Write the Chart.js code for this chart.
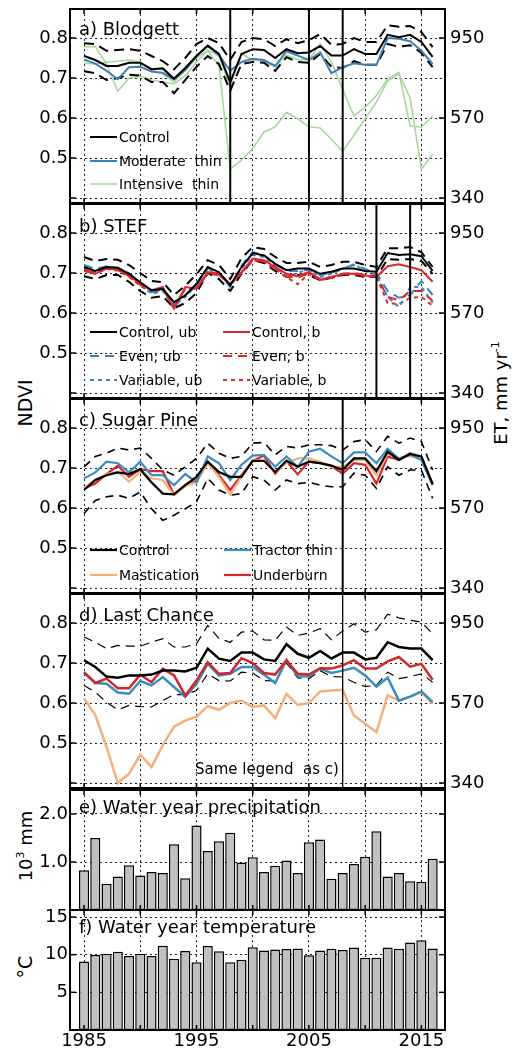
<!DOCTYPE html>
<html>
<head>
<meta charset="utf-8">
<script src="https://cdn.jsdelivr.net/npm/chart.js@4.4.0/dist/chart.umd.min.js"></script>
<style>
html,body{margin:0;padding:0;background:#fff;width:514px;height:1048px;overflow:hidden;}
body{position:relative;font-family:"DejaVu Sans";}
canvas{position:absolute;left:0;}
.lab{position:absolute;font-family:"DejaVu Sans";color:#000;white-space:nowrap;transform:translate(-50%,-50%) rotate(-90deg);}
.lab sup{font-size:11px;vertical-align:8px;line-height:0;}
</style>
</head>
<body>
<div class="lab" style="left:25px;top:403px;font-size:19px;">NDVI</div>
<div class="lab" style="left:500px;top:393px;font-size:18px;">ET, mm yr<sup>-1</sup></div>
<div class="lab" style="left:25px;top:846px;font-size:18px;">10<sup>3</sup> mm</div>
<div class="lab" style="left:25px;top:967px;font-size:19px;">°C</div>
<script>
// ---------------- DATA ----------------
const years = [1985,1986,1987,1988,1989,1990,1991,1992,1993,1994,1995,1996,1997,1998,1999,2000,
               2001,2002,2003,2004,2005,2006,2007,2008,2009,2010,2011,2012,2013,2014,2015,2016];
const xGridYears = [1985,1990,1995,2000,2005,2010,2015];
const xLabelYears = [1985,1995,2005,2015];
const ndviTicks = [0.4,0.5,0.6,0.7,0.8];
const etTickNdvi = [0.4,0.6,0.8];
const etTickLabels = ['340','570','950'];
const precipTicks = [1,2];
const tempTicks = [5,10,15];

// a) Blodgett
const blodControl  = [0.755,0.745,0.730,0.730,0.738,0.738,0.722,0.724,0.698,0.725,0.755,0.781,0.760,0.689,0.760,0.772,0.770,0.750,0.772,0.762,0.764,0.780,0.756,0.756,0.772,0.760,0.760,0.808,0.802,0.808,0.790,0.753];
const blodUpper    = [0.787,0.785,0.768,0.770,0.772,0.768,0.755,0.742,0.722,0.750,0.785,0.800,0.787,0.745,0.790,0.800,0.797,0.780,0.797,0.787,0.795,0.810,0.783,0.785,0.800,0.790,0.790,0.832,0.828,0.830,0.815,0.777];
const blodLower    = [0.717,0.712,0.695,0.700,0.708,0.706,0.690,0.690,0.662,0.695,0.728,0.755,0.735,0.668,0.735,0.740,0.738,0.718,0.752,0.740,0.738,0.760,0.728,0.725,0.742,0.733,0.733,0.785,0.778,0.782,0.763,0.727];
const blodModerate = [0.746,0.736,0.718,0.697,0.727,0.728,0.716,0.713,0.697,0.720,0.755,0.780,0.757,0.718,0.740,0.748,0.745,0.730,0.767,0.756,0.745,0.764,0.712,0.727,0.737,0.733,0.733,0.800,0.798,0.792,0.768,0.735];
const blodIntense1 = [0.778,0.778,0.735,0.667,0.700,0.705,0.695,0.690,0.685,0.705,0.740,0.768,0.730,0.472,0.495,0.523,0.565,0.578,0.614,0.598,0.578,0.575,0.547,0.517,0.557,0.598,0.640,0.693,0.710,0.650,0.472,0.510];
const blodIntense2 = [0.737,0.735,0.740,0.742,0.745,0.740,0.718,0.710,0.690,0.720,0.750,0.770,0.755,0.680,0.760,0.745,0.742,0.728,0.757,0.746,0.745,0.785,0.740,0.672,0.605,0.627,0.656,0.698,0.714,0.580,0.577,0.605];

// b) STEF
const stefCtrlUb = [0.715,0.705,0.715,0.713,0.698,0.677,0.657,0.660,0.627,0.644,0.673,0.715,0.702,0.669,0.715,0.750,0.744,0.723,0.707,0.711,0.711,0.698,0.703,0.711,0.711,0.705,0.703,0.750,0.745,0.747,0.742,0.705];
const stefCtrlB  = [0.705,0.698,0.711,0.708,0.694,0.673,0.657,0.665,0.611,0.665,0.661,0.702,0.698,0.673,0.702,0.736,0.732,0.715,0.698,0.692,0.703,0.683,0.690,0.698,0.698,0.694,0.690,0.717,0.722,0.715,0.707,0.678];
const stefUpper  = [0.740,0.730,0.735,0.733,0.720,0.700,0.680,0.677,0.645,0.668,0.697,0.732,0.720,0.685,0.737,0.765,0.760,0.740,0.725,0.725,0.728,0.715,0.720,0.728,0.728,0.720,0.715,0.762,0.762,0.765,0.752,0.715];
const stefLower  = [0.692,0.685,0.695,0.695,0.678,0.655,0.638,0.642,0.612,0.625,0.650,0.700,0.685,0.655,0.698,0.732,0.725,0.705,0.690,0.695,0.695,0.682,0.688,0.695,0.695,0.690,0.690,0.735,0.733,0.735,0.730,0.698];
const stefEvenUb = [0.720,0.710,0.717,0.712,0.700,0.675,0.652,0.658,0.622,0.645,0.668,0.712,0.700,0.665,0.718,0.752,0.745,0.722,0.705,0.705,0.708,0.695,0.700,0.712,0.720,0.710,0.700,0.655,0.638,0.645,0.680,0.645];
const stefVarUb  = [0.712,0.702,0.713,0.710,0.696,0.672,0.648,0.655,0.618,0.640,0.670,0.710,0.698,0.668,0.712,0.745,0.740,0.718,0.690,0.700,0.710,0.690,0.698,0.710,0.722,0.705,0.695,0.640,0.615,0.665,0.665,0.625];
const stefEvenB  = [0.708,0.700,0.712,0.708,0.692,0.670,0.655,0.662,0.615,0.660,0.662,0.700,0.695,0.672,0.700,0.733,0.730,0.712,0.692,0.688,0.700,0.685,0.690,0.698,0.700,0.695,0.692,0.640,0.632,0.655,0.655,0.630];
const stefVarB   = [0.706,0.698,0.710,0.706,0.690,0.668,0.652,0.660,0.612,0.662,0.660,0.698,0.695,0.670,0.700,0.732,0.728,0.710,0.690,0.672,0.698,0.682,0.688,0.695,0.698,0.692,0.690,0.625,0.622,0.638,0.640,0.618];

// c) Sugar Pine
const spCtrl    = [0.645,0.670,0.682,0.689,0.685,0.697,0.664,0.636,0.634,0.657,0.678,0.716,0.690,0.678,0.678,0.718,0.718,0.690,0.718,0.703,0.716,0.712,0.706,0.695,0.724,0.724,0.692,0.741,0.720,0.735,0.729,0.660];
const spUpper   = [0.703,0.729,0.737,0.750,0.745,0.750,0.724,0.695,0.682,0.703,0.724,0.762,0.737,0.724,0.729,0.762,0.764,0.733,0.754,0.750,0.758,0.758,0.756,0.745,0.766,0.771,0.741,0.779,0.762,0.775,0.766,0.695];
const spLower   = [0.586,0.619,0.628,0.632,0.624,0.640,0.598,0.569,0.582,0.598,0.615,0.674,0.645,0.632,0.636,0.678,0.670,0.645,0.670,0.661,0.664,0.657,0.653,0.653,0.687,0.682,0.649,0.703,0.682,0.695,0.695,0.624];
const spTractor = [0.674,0.689,0.716,0.712,0.689,0.716,0.682,0.682,0.657,0.685,0.664,0.729,0.712,0.670,0.708,0.731,0.733,0.703,0.729,0.703,0.741,0.748,0.729,0.712,0.739,0.739,0.712,0.748,0.723,0.733,0.720,0.657];
const spMast    = [0.650,0.670,0.685,0.690,0.666,0.690,0.674,0.670,0.632,0.655,0.664,0.712,0.678,0.634,0.678,0.720,0.718,0.690,0.712,0.724,0.724,0.715,0.703,0.703,0.720,0.720,0.682,0.735,0.725,0.730,0.725,0.660];
const spBurn    = [0.649,0.661,0.685,0.706,0.678,0.697,0.692,0.692,0.634,0.657,0.670,0.716,0.682,0.645,0.682,0.718,0.731,0.686,0.718,0.684,0.716,0.712,0.705,0.686,0.712,0.708,0.661,0.729,0.720,0.737,0.725,0.658];

// d) Last Chance
const lcCtrl    = [0.707,0.690,0.666,0.663,0.669,0.669,0.671,0.681,0.681,0.679,0.688,0.736,0.711,0.705,0.726,0.726,0.709,0.705,0.747,0.723,0.713,0.730,0.711,0.726,0.726,0.709,0.713,0.752,0.740,0.736,0.736,0.707];
const lcUpper   = [0.765,0.752,0.736,0.744,0.742,0.742,0.752,0.761,0.740,0.740,0.748,0.794,0.761,0.752,0.777,0.780,0.758,0.757,0.790,0.769,0.775,0.786,0.758,0.780,0.798,0.777,0.783,0.822,0.813,0.807,0.802,0.773];
const lcLower   = [0.644,0.627,0.602,0.583,0.594,0.591,0.590,0.606,0.621,0.621,0.631,0.673,0.656,0.655,0.677,0.675,0.656,0.655,0.700,0.663,0.661,0.681,0.666,0.665,0.652,0.641,0.644,0.677,0.661,0.666,0.673,0.652];
const lcTractor = [0.677,0.650,0.648,0.626,0.623,0.655,0.644,0.665,0.640,0.615,0.648,0.698,0.669,0.673,0.690,0.690,0.671,0.650,0.707,0.667,0.666,0.686,0.675,0.681,0.688,0.669,0.641,0.663,0.606,0.616,0.629,0.602];
const lcMast    = [0.611,0.570,0.490,0.400,0.423,0.471,0.440,0.494,0.541,0.556,0.566,0.592,0.583,0.600,0.606,0.590,0.594,0.562,0.623,0.595,0.600,0.629,0.631,0.633,0.569,0.548,0.527,0.619,0.606,0.616,0.627,0.598];
const lcBurn    = [0.676,0.650,0.661,0.637,0.637,0.671,0.652,0.686,0.669,0.619,0.656,0.702,0.673,0.675,0.712,0.700,0.675,0.671,0.707,0.673,0.671,0.687,0.686,0.694,0.707,0.686,0.686,0.704,0.715,0.691,0.698,0.658];

// e) Water year precipitation (10^3 mm)
const precip = [0.83,1.50,0.545,0.70,0.93,0.72,0.79,0.77,1.37,0.66,1.76,1.23,1.43,1.61,0.99,1.10,
                0.79,0.92,1.03,0.77,1.41,1.47,0.65,0.77,0.96,1.11,1.64,0.70,0.77,0.60,0.59,1.07];
// f) Water year temperature (deg C)
const temp = [9.08,9.96,10.13,10.39,9.82,10.13,9.82,11.18,9.47,10.48,8.99,11.14,10.44,8.99,9.34,11.0,
              10.57,10.70,10.75,10.83,9.91,10.57,10.79,10.61,10.96,9.60,9.60,10.96,10.79,11.62,11.93,10.83];

// treatment years (vertical lines)
const treatBlodgett = [1998,2005,2008];
const treatStef = [2011,2014];
const treatSugarPine = [2008];
const treatLastChance = [2008];

// ---------------- RENDERING ----------------
Chart.defaults.font.family = '"DejaVu Sans"';
Chart.defaults.color = '#000';

const X_MIN = 1983.75, X_MAX = 2017.1;
const NDVI_MIN = 0.3875, NDVI_MAX = 0.8725;
const PAD = 10, X_LABEL_H = 18;
const BLUE_MOD = '#3d7fb6', GREEN = '#a9d7a0', STEF_BLUE = '#3288c0', STEF_RED = '#e1262b';
const TRACT = '#3a8cc1', MAST = '#f3b07a', BURN = '#d3262a';

const panelPlugin = {
  id: 'panel',
  afterDatasetsDraw(chart, args, o) {
    const {ctx, chartArea: a, scales} = chart;
    ctx.save();
    // treatment lines
    (o.treat || []).forEach(yr => {
      const x = scales.x.getPixelForValue(yr);
      ctx.beginPath(); ctx.setLineDash([]);
      ctx.lineWidth = o.treatWidth || 2; ctx.strokeStyle = '#000';
      ctx.moveTo(x, a.top); ctx.lineTo(x, a.bottom); ctx.stroke();
    });
    // inward tick marks
    ctx.lineWidth = 1.5; ctx.strokeStyle = '#000';
    xGridYears.forEach(v => {
      const x = scales.x.getPixelForValue(v);
      ctx.beginPath();
      ctx.moveTo(x, a.top); ctx.lineTo(x, a.top + 5);
      ctx.moveTo(x, a.bottom); ctx.lineTo(x, a.bottom - 5);
      ctx.stroke();
    });
    (o.leftTicks || []).forEach(v => {
      const y = scales.y.getPixelForValue(v);
      ctx.beginPath(); ctx.moveTo(a.left, y); ctx.lineTo(a.left + 6, y); ctx.stroke();
    });
    (o.rightTicks || []).forEach(v => {
      const y = scales.y.getPixelForValue(v);
      ctx.beginPath(); ctx.moveTo(a.right, y); ctx.lineTo(a.right - 6, y); ctx.stroke();
    });
    // frame
    ctx.lineWidth = 2;
    ctx.strokeRect(a.left, a.top, a.right - a.left, a.bottom - a.top);
    // title
    ctx.fillStyle = '#000';
    ctx.font = '18px "DejaVu Sans"';
    ctx.textBaseline = 'alphabetic'; ctx.textAlign = 'left';
    ctx.fillText(o.title, a.left + 9, a.top + o.titleY);
    // legend
    ctx.font = '14px "DejaVu Sans"';
    ctx.textBaseline = 'middle';
    (o.legend || []).forEach(it => {
      const ds = chart.data.datasets[it.ds];
      const x0 = a.left + it.x, y0 = a.top + it.y;
      ctx.beginPath();
      ctx.setLineDash(ds.borderDash || []);
      ctx.strokeStyle = ds.borderColor; ctx.lineWidth = Math.min(ds.borderWidth, 2.2);
      ctx.moveTo(x0, y0); ctx.lineTo(x0 + 27, y0); ctx.stroke();
      ctx.setLineDash([]);
      ctx.fillText(ds.label, x0 + 29, y0 + 1);
    });
    if (o.note) {
      ctx.font = '15px "DejaVu Sans"';
      ctx.fillText(o.note.text, a.left + o.note.x, a.top + o.note.y);
    }
    ctx.restore();
  }
};

function addCanvas(top, h, bottomExtra) {
  const c = document.createElement('canvas');
  c.width = 514; c.height = h + PAD + bottomExtra;
  c.style.top = (top - PAD) + 'px';
  c.style.width = '514px'; c.style.height = c.height + 'px';
  document.body.appendChild(c);
  return c;
}

function buildScales(p) {
  const tickFont = {family: 'DejaVu Sans', size: 18};
  const grid = {color: '#222', lineWidth: 1, drawTicks: false, offset: false};
  const s = {
    x: {
      type: 'linear', min: X_MIN, max: X_MAX, offset: false,
      afterBuildTicks: sc => { sc.ticks = xGridYears.map(v => ({value: v})); },
      afterFit: sc => { sc.height = p.xLabels ? X_LABEL_H : 0; sc.paddingLeft = 0; sc.paddingRight = 0; },
      grid: grid, border: {display: false, dash: [2, 3]},
      ticks: {display: !!p.xLabels, autoSkip: false, maxRotation: 0, padding: 1, font: tickFont, color: '#000',
        callback: v => xLabelYears.includes(v) ? String(v) : ''}
    },
    y: {
      type: 'linear', position: 'left', min: p.min, max: p.max,
      afterBuildTicks: sc => { sc.ticks = p.yTicks.map(v => ({value: v})); },
      afterFit: sc => { sc.width = 70; sc.paddingTop = 0; sc.paddingBottom = 0; },
      grid: grid, border: {display: false, dash: [2, 3]},
      ticks: {padding: 2, font: tickFont, color: '#000', callback: p.yFmt}
    },
    y2: {
      type: 'linear', position: 'right', min: p.min, max: p.max,
      afterBuildTicks: sc => { sc.ticks = (p.rTicks || [p.min]).map(v => ({value: v})); },
      afterFit: sc => { sc.width = 69; sc.paddingTop = 0; sc.paddingBottom = 0; },
      grid: {display: false, drawTicks: false}, border: {display: false},
      ticks: {display: !!p.rLabels, padding: 5, font: tickFont, color: '#000',
        callback: v => p.rLabels ? p.rLabels[p.rTicks.indexOf(v)] : ''}
    }
  };
  return s;
}

function ln(label, data, color, width, dash) {
  return {label: label, data: years.map((x, i) => ({x: x, y: data[i]})), borderColor: color,
          borderWidth: width, borderDash: dash || [], pointRadius: 0, fill: false, tension: 0,
          borderCapStyle: 'butt', borderJoinStyle: 'miter', yAxisID: 'y'};
}

function ndviPanel(top, h, datasets, panelOpts) {
  const c = addCanvas(top, h, PAD);
  new Chart(c, {
    type: 'line',
    data: {datasets: datasets},
    options: {
      responsive: false, animation: false, devicePixelRatio: 1,
      layout: {padding: {top: PAD, bottom: PAD, left: 0, right: 0}},
      plugins: {legend: {display: false}, tooltip: {enabled: false}, panel: panelOpts},
      scales: buildScales({min: NDVI_MIN, max: NDVI_MAX, yTicks: ndviTicks,
        yFmt: v => v < 0.45 ? '' : v.toFixed(1), rTicks: etTickNdvi, rLabels: etTickLabels})
    },
    plugins: [panelPlugin]
  });
}

// a) Blodgett
ndviPanel(9, 194, [
  ln('Control', blodControl, '#000', 2),
  ln('Moderate  thin', blodModerate, BLUE_MOD, 2),
  ln('Control upper', blodUpper, '#000', 2, [10, 6]),
  ln('Control lower', blodLower, '#000', 2, [10, 6]),
  ln('Intensive  thin', blodIntense1, GREEN, 1.6),
  ln('Intensive  thin 2', blodIntense2, GREEN, 1.6)
], {title: 'a) Blodgett', titleY: 26, treat: treatBlodgett, leftTicks: ndviTicks, rightTicks: etTickNdvi,
    legend: [{ds: 0, x: 20, y: 128}, {ds: 1, x: 20, y: 152}, {ds: 4, x: 20, y: 175}]});

// b) STEF
ndviPanel(204, 194, [
  ln('Control, ub', stefCtrlUb, '#000', 2),
  ln('Control, b', stefCtrlB, STEF_RED, 2),
  ln('Even; ub', stefEvenUb, STEF_BLUE, 2, [9, 6]),
  ln('Even; b', stefEvenB, STEF_RED, 2, [9, 6]),
  ln('Variable, ub', stefVarUb, STEF_BLUE, 2, [4, 4]),
  ln('Variable, b', stefVarB, STEF_RED, 2, [4, 4]),
  ln('upper', stefUpper, '#000', 2, [9, 6]),
  ln('lower', stefLower, '#000', 2, [9, 6])
], {title: 'b) STEF', titleY: 28, treat: treatStef, leftTicks: ndviTicks, rightTicks: etTickNdvi,
    legend: [{ds: 0, x: 20, y: 128}, {ds: 1, x: 153, y: 128}, {ds: 2, x: 20, y: 152}, {ds: 3, x: 153, y: 152},
             {ds: 4, x: 20, y: 176}, {ds: 5, x: 153, y: 176}]});

// c) Sugar Pine
ndviPanel(399, 194, [
  ln('Control', spCtrl, '#000', 2.2),
  ln('Tractor thin', spTractor, TRACT, 2.2),
  ln('Mastication', spMast, MAST, 2.2),
  ln('Underburn', spBurn, BURN, 2.2),
  ln('upper', spUpper, '#000', 1.6, [8, 6]),
  ln('lower', spLower, '#000', 1.6, [8, 6])
], {title: 'c) Sugar Pine', titleY: 27, treat: treatSugarPine, leftTicks: ndviTicks, rightTicks: etTickNdvi,
    legend: [{ds: 0, x: 20, y: 151}, {ds: 1, x: 154, y: 151}, {ds: 2, x: 20, y: 176}, {ds: 3, x: 154, y: 176}]});

// d) Last Chance
ndviPanel(594, 194, [
  ln('Control', lcCtrl, '#000', 2.5),
  ln('Underburn', lcBurn, BURN, 2.5),
  ln('Tractor thin', lcTractor, TRACT, 2.5),
  ln('Mastication', lcMast, MAST, 2.5),
  ln('upper', lcUpper, '#000', 1.2, [9, 6]),
  ln('lower', lcLower, '#000', 1.2, [9, 6])
], {title: 'd) Last Chance', titleY: 27, treat: treatLastChance, treatWidth: 1.3, leftTicks: ndviTicks, rightTicks: etTickNdvi,
    note: {text: 'Same legend  as c)', x: 125, y: 176}});

function barPanel(top, h, values, min, max, yTicks, yFmt, title, isLast) {
  const c = addCanvas(top, h, isLast ? X_LABEL_H : PAD);
  new Chart(c, {
    type: 'bar',
    data: {datasets: [{data: years.map((x, i) => ({x: x, y: values[i]})), backgroundColor: '#c0c0c0',
      borderColor: '#000', borderWidth: 1.5, borderSkipped: false, barPercentage: 0.9, categoryPercentage: 1, yAxisID: 'y'}]},
    options: {
      responsive: false, animation: false, devicePixelRatio: 1,
      layout: {padding: {top: PAD, bottom: isLast ? 0 : PAD, left: 0, right: 0}},
      plugins: {legend: {display: false}, tooltip: {enabled: false},
        panel: {title: title, titleY: 23, leftTicks: yTicks, rightTicks: yTicks}},
      scales: buildScales({min: min, max: max, yTicks: yTicks, yFmt: yFmt, xLabels: isLast})
    },
    plugins: [panelPlugin]
  });
}

barPanel(790, 120, precip, 0, 2.5, precipTicks, v => v.toFixed(1), 'e) Water year precipitation', false);
barPanel(910, 120, temp, 0, 15.93, tempTicks, v => String(v), 'f) Water year temperature', true);
</script>
</body>
</html>
